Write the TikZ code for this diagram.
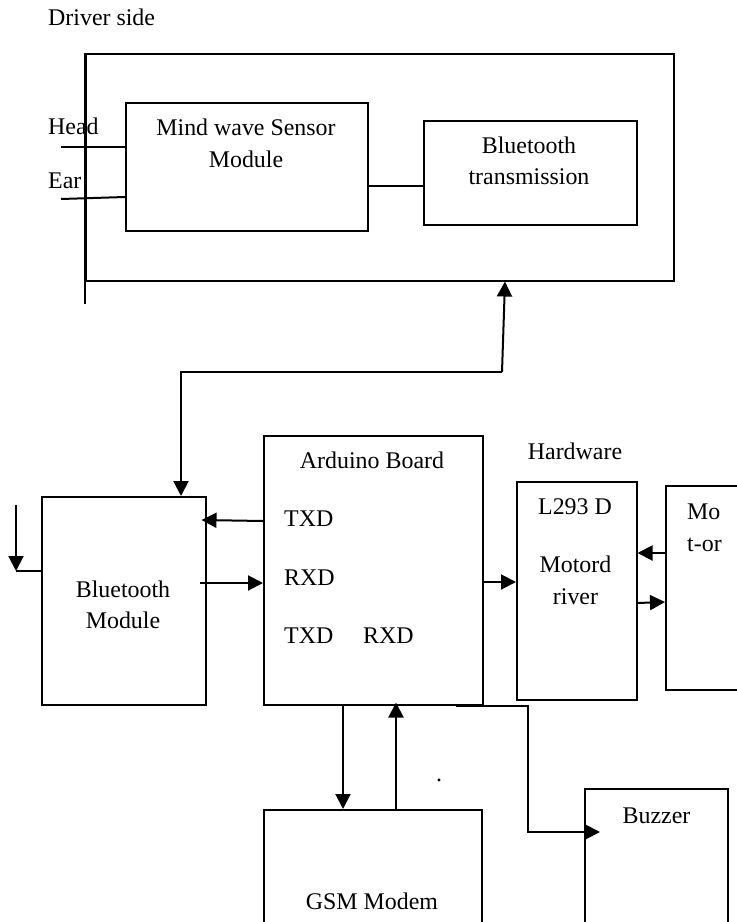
\documentclass[tikz,border=0pt]{standalone}
\usepackage{fontspec}
\setmainfont{Liberation Serif}
\usetikzlibrary{arrows.meta}
\begin{document}
\begin{tikzpicture}[x=1pt,y=-1pt,
  box/.style={draw, line width=1.5pt, inner sep=0pt, anchor=north west},
  wire/.style={line width=2pt},
  arr/.style={wire, -{Triangle[length=15pt,width=15pt]}},
  lbl/.style={inner sep=0pt, anchor=base, font=\fontsize{23.9}{28}\selectfont},
  lbll/.style={lbl, anchor=base west}]
\useasboundingbox (0,0) rectangle (737,922);
\clip (0,0) rectangle (737,922);
% boxes
\node[box, minimum width=588pt, minimum height=227pt] (outer) at (85,53) {};
\node[box, minimum width=242pt, minimum height=128pt] (mind) at (125,102) {};
\node[box, minimum width=213pt, minimum height=104pt] (btt) at (423,120) {};
\node[box, minimum width=164pt, minimum height=208pt] (bm) at (41,496) {};
\node[box, minimum width=219pt, minimum height=269pt] (ard) at (263,435) {};
\node[box, minimum width=120pt, minimum height=218pt] (drv) at (516,481) {};
\node[box, minimum width=90pt, minimum height=204pt] (mot) at (665,485) {};
\node[box, minimum width=218pt, minimum height=130pt] (gsm) at (263,809) {};
\node[box, minimum width=143pt, minimum height=150pt] (buz) at (584,788) {};
% texts
\node[lbll] (driverside) at (48,25) {Driver side};
\node[lbll] (head) at (48,134) {Head};
\node[lbll] (ear) at (48,188) {Ear};
\node[lbl] (mindA) at (246,135) {Mind wave Sensor};
\node[lbl] (mindB) at (246,167) {Module};
\node[lbl] (bttA) at (529,153) {Bluetooth};
\node[lbl] (bttB) at (529,184) {transmission};
\node[lbl] (ardA) at (372,468) {Arduino Board};
\node[lbll] (txdA) at (284,526) {TXD};
\node[lbll] (rxdA) at (284,585) {RXD};
\node[lbll] (txdB) at (284,643) {TXD};
\node[lbll] (rxdB) at (363,643) {RXD};
\node[lbl] (hw) at (575,459) {Hardware};
\node[lbl] (drvA) at (575,514) {L293 D};
\node[lbl] (drvB) at (575.5,572) {Motord};
\node[lbl] (drvC) at (575.5,604) {river};
\node[lbll] (motA) at (687,519) {Mo};
\node[lbll] (motB) at (687,551) {t-or};
\node[lbl] (bmA) at (123,597) {Bluetooth};
\node[lbl] (bmB) at (123,628) {Module};
\node[lbl] (gsmA) at (372,909) {GSM Modem};
\node[lbl] (buzA) at (656.5,823) {Buzzer};
\node[lbl] (dot) at (439,781) {.};
% connectors
\coordinate (ext) at (85,304);
\draw[wire] (outer.south west) -- (outer.north west);
\draw[wire] (outer.south west) -- (ext);
\coordinate (headin) at (61,147);
\draw[wire] (headin) -- (mind.west |- headin);
\coordinate (earin) at (61,199);
\draw[wire] (earin) -- (mind.west |- 0,197);
\draw[wire] (mind.east |- 0,186) -- (btt.west |- 0,186);
\coordinate (bend) at (502,372);
\draw[arr] (bend) -- (outer.south west -| 505,0);
\draw[arr] (bend) -| (bm.north west -| 181,0);
\coordinate (bmleft) at (16,571);
\coordinate (bmtop) at (16,505);
\draw[wire] (bm.west |- bmleft) -- (bmleft);
\draw[arr] (bmtop) -- (bmleft);
\draw[arr] (ard.west |- 0,521) -- ([xshift=-5pt]bm.east |- 0,520);
\draw[arr] ([xshift=-7pt]bm.east |- 0,583) -- (ard.west |- 0,583);
\draw[arr] (ard.east |- 0,582) -- (drv.west |- 0,582);
\draw[arr] (mot.west |- 0,553) -- (drv.east |- 0,553);
\draw[arr] (drv.east |- 0,603) -- (mot.west |- 0,602);
\draw[arr] (ard.south -| 343,0) -- (gsm.north -| 343,0);
\draw[arr] (gsm.north -| 396,0) -- ([yshift=3pt]ard.south -| 396,0);
\draw[arr] (ard.south -| 456,0) -| (528,832) -- ([xshift=16pt]buz.west |- 0,832);
\end{tikzpicture}
\end{document}
